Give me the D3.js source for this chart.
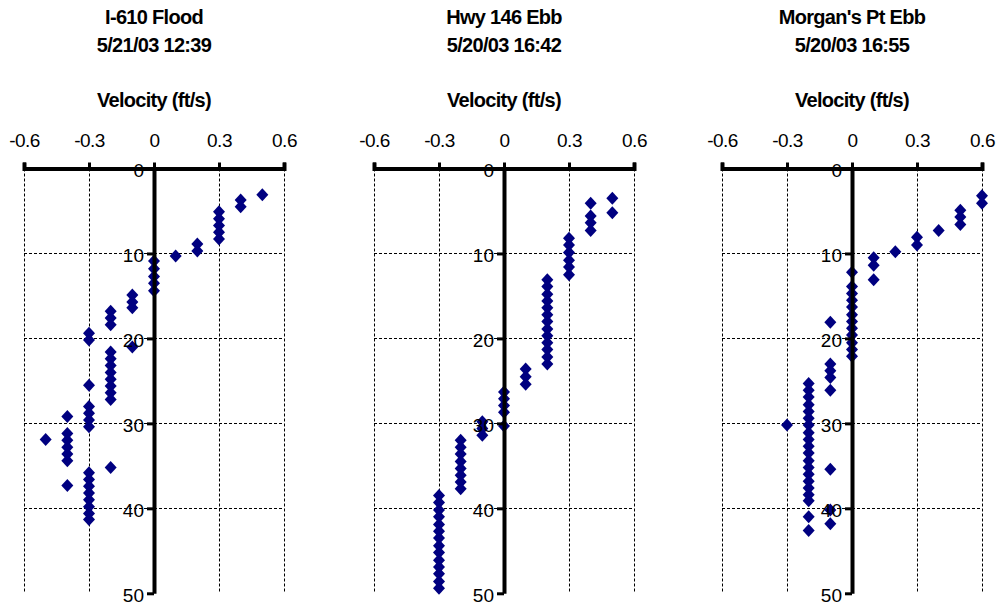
<!DOCTYPE html>
<html>
<head>
<meta charset="utf-8">
<script src="https://cdn.jsdelivr.net/npm/d3@7"></script>
<style>
  html, body { margin: 0; padding: 0; background: #fff; }
  svg { display: block; font-family: "Liberation Sans", Arial, sans-serif; }
</style>
</head>
<body>
<svg id="chart" width="1002" height="606"></svg>
<script>
// Velocity profiles (ft/s) against depth (ft) at three stations
const velocityTicks = [-0.6, -0.3, 0, 0.3, 0.6];
const depthTicks = [0, 10, 20, 30, 40, 50];
const stationNames = ["I-610 Flood", "Hwy 146 Ebb", "Morgan's Pt Ebb"];
const stationTimes = ["5/21/03 12:39", "5/20/03 16:42", "5/20/03 16:55"];
const axisTitle = "Velocity (ft/s)";

const i610Velocity = [0.5, 0.4, 0.4, 0.3, 0.3, 0.3, 0.3, 0.3, 0.2, 0.2, 0.1,
  0, 0, 0, 0, 0, -0.1, -0.1, -0.1, -0.2, -0.2, -0.2, -0.3, -0.3, -0.1,
  -0.2, -0.2, -0.2, -0.2, -0.2, -0.2, -0.2, -0.2, -0.3, -0.3, -0.3, -0.3, -0.3,
  -0.4, -0.4, -0.4, -0.4, -0.4, -0.4, -0.5, -0.2, -0.4,
  -0.3, -0.3, -0.3, -0.3, -0.3, -0.3, -0.3, -0.3];
const i610Depth = [3.1, 3.7, 4.5, 5.1, 5.9, 6.7, 7.5, 8.3, 8.9, 9.7, 10.3,
  10.9, 11.8, 12.7, 13.5, 14.4, 14.9, 15.7, 16.4, 16.8, 17.6, 18.4, 19.4, 20.2, 21.0,
  21.6, 22.4, 23.2, 24.0, 24.8, 25.6, 26.4, 27.2, 25.5, 28.0, 28.8, 29.6, 30.4,
  29.2, 31.2, 32.0, 32.8, 33.6, 34.4, 31.9, 35.2, 37.3,
  35.8, 36.6, 37.4, 38.2, 39.0, 39.8, 40.6, 41.3];

const hwy146Velocity = [0.5, 0.5, 0.4, 0.4, 0.4, 0.4,
  0.3, 0.3, 0.3, 0.3, 0.3, 0.3,
  0.2, 0.2, 0.2, 0.2, 0.2, 0.2, 0.2, 0.2, 0.2, 0.2, 0.2, 0.2, 0.2,
  0.1, 0.1, 0.1, 0, 0, 0, 0, 0, -0.1, -0.1, -0.1,
  -0.2, -0.2, -0.2, -0.2, -0.2, -0.2, -0.2, -0.2,
  -0.3, -0.3, -0.3, -0.3, -0.3, -0.3, -0.3, -0.3, -0.3, -0.3, -0.3, -0.3, -0.3, -0.3];
const hwy146Depth = [3.5, 5.2, 4.1, 5.6, 6.4, 7.3,
  8.2, 9.0, 9.9, 10.8, 11.6, 12.5,
  13.1, 13.9, 14.8, 15.6, 16.4, 17.2, 18.0, 18.9, 19.7, 20.5, 21.3, 22.2, 23.0,
  23.6, 24.5, 25.4, 26.3, 27.1, 27.9, 28.7, 30.3, 29.8, 30.6, 31.4,
  32.0, 32.8, 33.6, 34.5, 35.3, 36.1, 36.9, 37.7,
  38.5, 39.3, 40.2, 41.0, 41.9, 42.7, 43.5, 44.4, 45.2, 46.1, 46.9, 47.7, 48.6, 49.4];

const morganVelocity = [0.6, 0.6, 0.5, 0.5, 0.5, 0.4, 0.3, 0.3, 0.2, 0.1, 0.1, 0.1,
  0, 0, 0, 0, 0, 0, 0, 0, 0, 0, 0, 0,
  -0.1, -0.1, -0.1, -0.1, -0.1, -0.1, -0.1, -0.1,
  -0.2, -0.2, -0.2, -0.2, -0.2, -0.2, -0.2, -0.2, -0.2, -0.2,
  -0.2, -0.2, -0.2, -0.2, -0.2, -0.2, -0.2, -0.2, -0.2, -0.2, -0.3];
const morganDepth = [3.2, 4.1, 4.9, 5.7, 6.6, 7.3, 8.1, 9.0, 9.8, 10.5, 11.4, 13.1,
  12.2, 13.9, 14.7, 15.5, 16.3, 17.2, 18.0, 18.8, 19.6, 20.5, 21.3, 22.1,
  18.1, 23.0, 23.8, 24.6, 26.1, 35.4, 40.2, 41.8,
  25.3, 26.1, 26.9, 27.8, 28.6, 29.4, 30.2, 31.1, 31.9, 32.7,
  33.5, 34.4, 35.2, 36.0, 36.8, 37.6, 38.4, 39.1, 41.0, 42.6, 30.2];

const stationVelocity = [i610Velocity, hwy146Velocity, morganVelocity];
const stationDepth = [i610Depth, hwy146Depth, morganDepth];

// layout
const panelLeft = [24, 374, 722];
const panelWidth = 260;
const plotTop = 168.5;
const plotBottom = 593.3;
const markColor = "#000080";

const svg = d3.select("#chart");
svg.append("rect").attr("width", 1002).attr("height", 606).attr("fill", "#fff");

const diamond = "M0,-6.5L6,0L0,6.5L-6,0Z";

stationNames.forEach((name, i) => {
  const x = d3.scaleLinear().domain([-0.6, 0.6]).range([panelLeft[i], panelLeft[i] + panelWidth]);
  const y = d3.scaleLinear().domain([0, 50]).range([plotTop, plotBottom]);
  const g = svg.append("g");

  // titles
  const cx = x(0);
  g.append("text").attr("x", cx).attr("y", 24).attr("text-anchor", "middle")
    .attr("font-size", 20).attr("font-weight", "bold").attr("letter-spacing", -0.7)
    .text(name);
  g.append("text").attr("x", cx).attr("y", 52).attr("text-anchor", "middle")
    .attr("font-size", 20).attr("font-weight", "bold").attr("letter-spacing", -0.7)
    .text(stationTimes[i]);
  g.append("text").attr("x", cx).attr("y", 107).attr("text-anchor", "middle")
    .attr("font-size", 20).attr("font-weight", "bold").attr("letter-spacing", -0.7)
    .text(axisTitle);

  // dashed grid
  const grid = g.append("g").attr("stroke", "#000").attr("stroke-width", 1)
    .attr("stroke-dasharray", "3,2").attr("fill", "none");
  grid.selectAll("line.v").data(velocityTicks).join("line")
    .attr("x1", d => Math.round(x(d)) + 0.5).attr("x2", d => Math.round(x(d)) + 0.5)
    .attr("y1", y(0)).attr("y2", y(50) - 1);
  grid.selectAll("line.h").data(depthTicks.filter(d => d > 0 && d < 50)).join("line")
    .attr("class", "h")
    .attr("x1", x(-0.6)).attr("x2", x(0.6))
    .attr("y1", d => Math.round(y(d)) + 0.5).attr("y2", d => Math.round(y(d)) + 0.5);

  // measured points
  const vel = stationVelocity[i], dep = stationDepth[i];
  g.append("g").selectAll("path").data(d3.range(vel.length)).join("path")
    .attr("d", diamond)
    .attr("transform", k => `translate(${x(vel[k])},${y(dep[k])})`)
    .attr("fill", markColor);

  // velocity axis along the top
  const xAxis = g.append("g").attr("transform", `translate(0,${plotTop})`)
    .call(d3.axisTop(x).tickValues(velocityTicks).tickFormat(d => String(d))
      .tickSize(6).tickSizeOuter(6).tickPadding(15.5));
  xAxis.select(".domain").attr("stroke-width", 4).attr("stroke", "#000");
  xAxis.selectAll(".tick line").attr("stroke-width", 3).attr("stroke", "#000");
  xAxis.selectAll(".tick text").attr("font-size", 19).attr("letter-spacing", -0.5)
    .attr("font-family", "Liberation Sans, Arial, sans-serif").attr("fill", "#000");

  // depth axis at zero velocity
  const yAxis = g.append("g").attr("transform", `translate(${x(0)},0)`)
    .call(d3.axisLeft(y).tickValues(depthTicks).tickSize(7).tickSizeOuter(0).tickPadding(3));
  yAxis.select(".domain").attr("stroke-width", 4).attr("stroke", "#000");
  yAxis.selectAll(".tick line").attr("stroke-width", 3).attr("stroke", "#000");
  yAxis.selectAll(".tick text").attr("font-size", 19).attr("dy", 8)
    .attr("font-family", "Liberation Sans, Arial, sans-serif").attr("fill", "#000");
});
</script>
</body>
</html>
